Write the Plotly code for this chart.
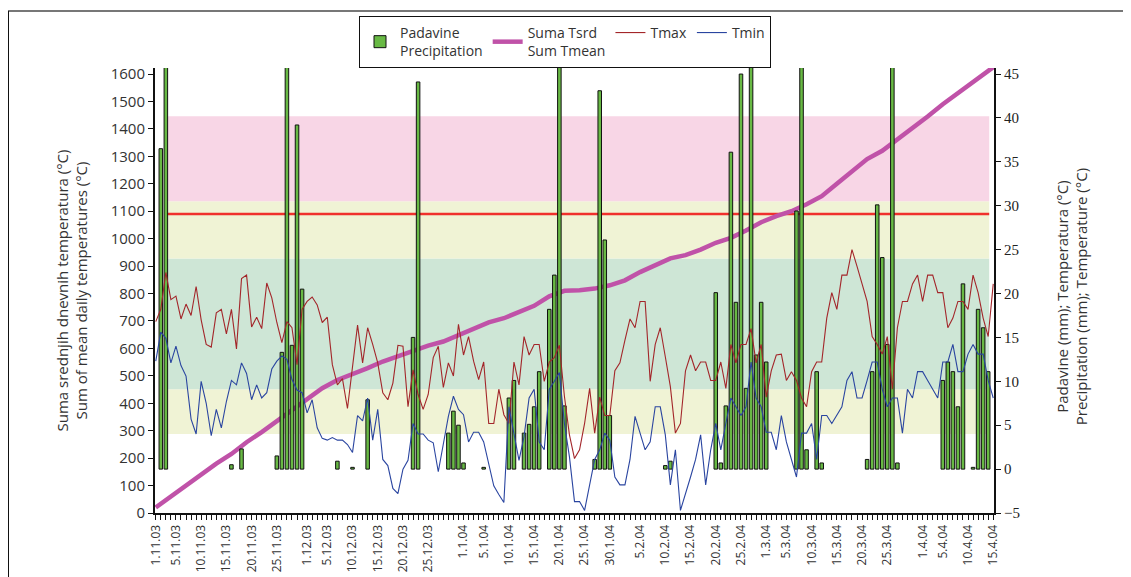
import pandas as pd
import plotly.graph_objects as go

# ---------------- data ----------------
start_date = "2003-11-01"
end_date = "2004-04-15"

tick_labels = ["1.11.03", "5.11.03", "10.11.03", "15.11.03", "20.11.03", "25.11.03",
               "1.12.03", "5.12.03", "10.12.03", "15.12.03", "20.12.03", "25.12.03",
               "1.1.04", "5.1.04", "10.1.04", "15.1.04", "20.1.04", "25.1.04", "30.1.04",
               "5.2.04", "10.2.04", "15.2.04", "20.2.04", "25.2.04",
               "1.3.04", "5.3.04", "10.3.04", "15.3.04", "20.3.04", "25.3.04",
               "1.4.04", "5.4.04", "10.4.04", "15.4.04"]

# daily maximum temperature (degC), 1.11.03 .. 15.4.04
tmax = [16.8, 18.2, 22.4, 19.3, 19.7, 17.1, 18.8, 17.5, 20.8, 17.0,
        14.2, 13.9, 17.8, 18.2, 15.4, 18.2, 13.7, 21.7, 22.1, 16.2,
        17.3, 16.0, 21.2, 19.5, 16.7, 14.4, 16.8, 16.1, 11.9, 18.2,
        19.1, 19.6, 18.7, 16.7, 17.3, 11.9, 9.6, 10.3, 6.9, 11.7,
        16.4, 12.1, 16.1, 14.2, 12.1, 8.7, 7.9, 9.8, 14.1, 14.0,
        7.1, 11.3, 8.5, 6.8, 8.5, 12.7, 14.0, 9.3, 12.1, 10.6,
        16.5, 13.0, 15.1, 12.3, 10.2, 12.2, 5.2, 5.2, 9.1, 6.2,
        5.2, 12.2, 9.6, 15.1, 13.0, 14.2, 14.2, 10.0, 12.2, 12.7,
        14.1, 8.3, 3.9, 1.2, 2.2, 5.2, 9.2, 4.1, 8.2, 6.1,
        6.1, 11.2, 12.1, 14.7, 17.1, 16.1, 19.1, 19.1, 10.0, 14.2,
        16.1, 12.8, 9.4, 4.1, 5.2, 11.2, 13.0, 11.2, 12.2, 12.2,
        10.1, 10.1, 12.2, 9.2, 14.2, 12.1, 14.2, 14.2, 16.0, 12.1,
        14.2, 8.2, 11.2, 13.0, 13.1, 10.1, 11.1, 10.1, 8.1, 7.1,
        11.1, 12.2, 12.2, 17.2, 20.1, 18.2, 22.1, 22.1, 25.0, 23.1,
        21.1, 19.1, 15.1, 14.2, 13.1, 15.1, 9.1, 16.1, 19.1, 19.1,
        21.1, 22.1, 19.1, 22.1, 22.1, 20.1, 20.1, 16.1, 17.2, 19.1,
        19.1, 18.2, 22.1, 20.1, 17.2, 15.1, 21.1]

# daily minimum temperature (degC)
tmin = [12.3, 15.6, 14.9, 12.1, 14.0, 11.8, 10.6, 5.7, 4.0, 10.0,
        7.5, 3.8, 6.8, 4.7, 7.7, 10.1, 9.6, 12.1, 10.9, 7.9,
        9.6, 8.1, 8.7, 11.4, 12.3, 12.9, 12.5, 10.2, 9.0, 8.7,
        6.4, 7.9, 4.7, 3.5, 3.3, 3.6, 3.3, 3.3, 2.8, 1.9,
        6.1, 5.5, 8.1, 3.3, 6.8, 1.1, 0.4, -2.2, -2.8, 0.0,
        1.0, 5.2, 4.0, 4.0, 3.3, 3.0, -0.3, 3.0, 6.0, 8.3,
        6.8, 6.2, 3.1, 4.2, 4.2, 3.1, 0.7, -1.9, -2.9, -3.8,
        7.1, 3.8, 1.0, 3.7, 8.1, 9.1, 3.1, 2.2, 9.1, 10.0,
        11.0, 5.2, 1.4, -3.7, -3.7, -4.7, -2.0, 1.1, 2.2, 4.1,
        3.3, -0.9, -1.8, -1.8, 1.1, 6.0, 4.1, 2.2, 3.1, 7.1,
        7.1, 3.9, -1.8, 2.2, -4.7, -2.9, -0.9, 1.1, 3.9, -1.8,
        2.2, 5.2, 2.2, 5.2, 8.1, 7.1, 6.1, 7.1, 12.2, 8.1,
        7.1, 4.2, 4.2, 2.2, 6.1, 3.1, 1.1, -0.9, 4.1, 4.1,
        5.2, 1.1, 6.1, 6.1, 5.2, 6.1, 7.1, 10.1, 11.1, 8.1,
        8.1, 10.1, 12.2, 12.2, 9.1, 7.1, 8.1, 8.1, 4.1, 9.1,
        8.1, 11.1, 11.1, 10.1, 9.1, 8.1, 12.2, 12.2, 14.2, 11.1,
        11.1, 13.1, 14.2, 13.1, 13.1, 10.1, 8.1]

# precipitation (mm) on rainy days; days counted from 1.11.03
rain_day = [1, 2, 15, 17, 24, 25, 26, 27, 28, 29, 36, 39, 42, 51, 52, 58, 59, 60, 61, 65,
            70, 71, 73, 74, 75, 76, 78, 79, 80, 81, 87, 88, 89, 90, 101, 102,
            111, 112, 113, 114, 115, 116, 117, 118, 119, 120, 121,
            127, 128, 129, 131, 132, 141, 142, 143, 144, 145, 146, 147,
            156, 157, 158, 159, 160, 162, 163, 164, 165]
rain_mm = [36.5, 48.0, 0.5, 2.3, 1.5, 13.3, 48.0, 14.1, 39.2, 20.5, 0.9, 0.2, 7.9, 15.0, 44.1,
           4.1, 6.6, 5.0, 0.7, 0.2,
           8.1, 10.1, 4.1, 5.1, 7.1, 11.1, 18.2, 22.1, 48.0, 7.2, 1.1, 43.1, 26.1, 6.1, 0.4, 0.9,
           20.1, 0.7, 7.2, 36.1, 19.0, 45.0, 9.2, 48.0, 13.0, 19.0, 12.2,
           29.4, 48.0, 2.2, 11.1, 0.7, 1.1, 11.1, 30.1, 24.1, 14.2, 48.0, 0.7,
           10.1, 12.2, 11.1, 7.1, 21.1, 0.2, 18.2, 16.1, 11.1]

# sum of mean daily temperatures (degC), read at intervals
sum_day = [0, 3, 6, 9, 12, 15, 18, 21, 24, 27, 30, 33, 36, 39, 42, 45, 48, 51, 54, 57,
           60, 63, 66, 69, 72, 75, 78, 81, 84, 87, 90, 93, 96, 99, 102, 105, 108, 111,
           114, 117, 120, 123, 126, 129, 132, 135, 138, 141, 144, 147, 150, 153, 156,
           159, 162, 165, 166]
sum_tmean = [20, 60, 105, 145, 180, 215, 258, 295, 335, 372, 415, 455, 485, 505, 528,
             552, 572, 592, 610, 625, 648, 672, 695, 710, 732, 755, 790, 810, 812, 818,
             830, 848, 878, 905, 928, 940, 960, 985, 1003, 1030, 1060, 1082, 1100, 1125,
             1155, 1200, 1245, 1290, 1320, 1360, 1405, 1445, 1490, 1530, 1570, 1612, 1625]

# threshold line (sum of mean temperatures) and background zones (right axis, degC)
threshold_sum = 1090
zones = [(4.0, 9.1, "#f0f3d5"), (9.1, 24.0, "#cee6d6"),
         (24.0, 30.5, "#f0f3d5"), (30.5, 40.2, "#f8d6e6")]

# ---------------- figure ----------------
dates = pd.date_range(start_date, end_date, freq="D")
day = list(range(len(dates)))
t0 = pd.Timestamp(start_date)
tick_vals = [(pd.to_datetime(s, format="%d.%m.%y") - t0).days for s in tick_labels]

fig = go.Figure()

fig.add_trace(go.Bar(
    x=rain_day, y=rain_mm, yaxis="y2", width=0.7,
    marker=dict(color="#68b944", line=dict(color="#111111", width=1)),
    name="Padavine<br>Precipitation"))

fig.add_trace(go.Scatter(
    x=sum_day, y=sum_tmean, mode="lines", yaxis="y",
    line=dict(color="#c052a8", width=4.5),
    name="Suma Tsrd<br>Sum Tmean"))

fig.add_trace(go.Scatter(
    x=day, y=tmax, mode="lines", yaxis="y2",
    line=dict(color="#a3262a", width=1.1), name="Tmax"))

fig.add_trace(go.Scatter(
    x=day, y=tmin, mode="lines", yaxis="y2",
    line=dict(color="#2a45a0", width=1.1), name="Tmin"))

shapes = []
for lo, hi, col in zones:
    shapes.append(dict(type="rect", xref="x", yref="y2", x0=2.3, x1=165.2, y0=lo, y1=hi,
                       fillcolor=col, line=dict(width=0), layer="below"))
shapes.append(dict(type="line", xref="x", yref="y", x0=2.3, x1=165.2,
                   y0=threshold_sum, y1=threshold_sum,
                   line=dict(color="#f0302c", width=2.5), layer="below"))
# outer frame fragments of the original figure
shapes.append(dict(type="line", xref="paper", yref="paper", x0=-0.1752, x1=1.17,
                   y0=1.128, y1=1.128, line=dict(color="#777777", width=2)))
shapes.append(dict(type="line", xref="paper", yref="paper", x0=-0.1746, x1=-0.1746,
                   y0=1.128, y1=-0.16, line=dict(color="#111111", width=1)))

tickfont_l = dict(family="Open Sans", size=15, color="#333333")
tickfont_r = dict(family="Liberation Serif", size=15, color="#222222")

# the page body adds an 8px offset; the figure fills the rest of the 1131x577 window
fig.update_layout(
    width=1123, height=569,
    margin=dict(l=147, r=137, t=60, b=64, autoexpand=False),
    plot_bgcolor="white", paper_bgcolor="white",
    shapes=shapes,
    bargap=0.3,
    legend=dict(orientation="h", xref="container", yref="container",
                x=0.496, xanchor="center", y=0.986, yanchor="top",
                bordercolor="#111111", borderwidth=1, bgcolor="white",
                font=dict(family="Open Sans", size=14, color="#333333"),
                itemwidth=30, tracegroupgap=0),
    xaxis=dict(range=[-0.15, 166.15], tickvals=tick_vals, ticktext=tick_labels,
               tickangle=-90, ticks="outside", ticklen=5, tickcolor="#111111",
               tickfont=dict(family="Open Sans", size=12, color="#333333"),
               showline=True, linecolor="#111111", linewidth=2,
               showgrid=False, zeroline=False, automargin=False,
               minor=dict(dtick=1, tick0=0, ticks="outside", ticklen=5,
                          tickcolor="#111111", showgrid=False)),
    yaxis=dict(range=[0, 1622], tick0=0, dtick=100, ticks="outside", ticklen=5,
               tickcolor="#111111", tickfont=tickfont_l, automargin=False,
               showline=True, linecolor="#111111", linewidth=2,
               showgrid=False, zeroline=False),
    yaxis2=dict(range=[-5, 45.69], tick0=-5, dtick=5, overlaying="y", side="right",
                ticks="outside", ticklen=5, tickcolor="#111111", tickfont=tickfont_r,
                showline=True, linecolor="#111111", linewidth=2, automargin=False,
                showgrid=False, zeroline=False),
    annotations=[
        dict(text="Suma srednjih dnevnih temperatura (°C)<br>Sum of mean daily temperatures (°C)",
             xref="paper", yref="paper", x=-0.1001, y=0.50, textangle=-90,
             showarrow=False, font=dict(family="Open Sans", size=15, color="#333333"),
             xanchor="center", yanchor="middle"),
        dict(text="Padavine (mm); Temperatura (°C)<br>Precipitation (mm); Temperature (°C)",
             xref="paper", yref="paper", x=1.093, y=0.485, textangle=-90,
             showarrow=False, font=dict(family="Open Sans", size=15, color="#333333"),
             xanchor="center", yanchor="middle"),
    ],
)

fig.write_html("out.html")
